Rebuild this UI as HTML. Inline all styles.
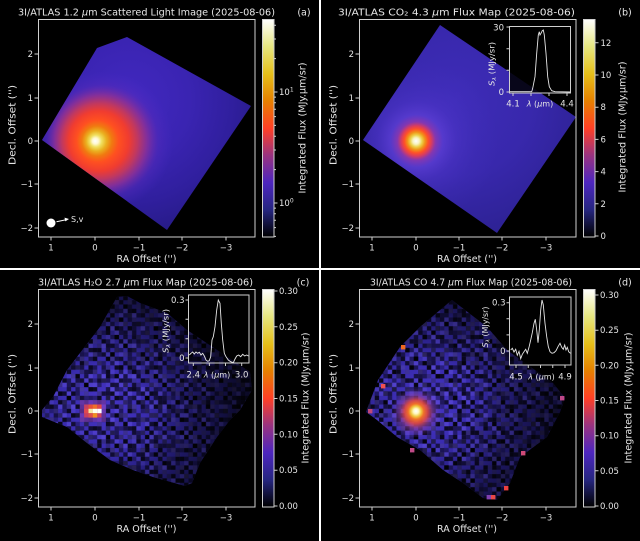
<!DOCTYPE html>
<html><head><meta charset="utf-8">
<style>
html,body{margin:0;padding:0;background:#000;}
svg{display:block;}
text{font-family:"DejaVu Sans","Liberation Sans",sans-serif;fill:#e6e6e6;}
</style></head><body>
<svg width="640" height="541" viewBox="0 0 640 541" xmlns="http://www.w3.org/2000/svg">
<defs>
<linearGradient id="cmap" x1="0" y1="1" x2="0" y2="0">
 <stop offset="0" stop-color="#000000"/>
 <stop offset="0.125" stop-color="#262680"/>
 <stop offset="0.25" stop-color="#4d26bf"/>
 <stop offset="0.375" stop-color="#993380"/>
 <stop offset="0.5" stop-color="#ff4026"/>
 <stop offset="0.625" stop-color="#e68000"/>
 <stop offset="0.75" stop-color="#e6bf1a"/>
 <stop offset="0.875" stop-color="#e6e680"/>
 <stop offset="1" stop-color="#ffffff"/>
</linearGradient>
<radialGradient id="haloA" gradientUnits="userSpaceOnUse" cx="130" cy="100" r="170">
 <stop offset="0" stop-color="#4228c0"/>
 <stop offset="0.35" stop-color="#3a24b2"/>
 <stop offset="0.6" stop-color="#301f9e"/>
 <stop offset="0.8" stop-color="#271b88"/>
 <stop offset="1" stop-color="#1e1670"/>
</radialGradient>
<radialGradient id="coreA" gradientUnits="userSpaceOnUse" cx="110" cy="141" fx="95" fy="141" r="120">
 <stop offset="0" stop-color="#ffffff"/>
 <stop offset="0.025" stop-color="#fff8d0"/>
 <stop offset="0.05" stop-color="#f0e060"/>
 <stop offset="0.085" stop-color="#eab020"/>
 <stop offset="0.125" stop-color="#f07a10"/>
 <stop offset="0.175" stop-color="#ff5020"/>
 <stop offset="0.25" stop-color="#f03c30"/>
 <stop offset="0.315" stop-color="#c03860"/>
 <stop offset="0.385" stop-color="#8a3098" stop-opacity="0.9"/>
 <stop offset="0.47" stop-color="#5a2cbc" stop-opacity="0.4"/>
 <stop offset="0.58" stop-color="#4a2cc8" stop-opacity="0"/>
</radialGradient>
<radialGradient id="haloB" gradientUnits="userSpaceOnUse" cx="455" cy="100" r="190">
 <stop offset="0" stop-color="#3e2cb8"/>
 <stop offset="0.4" stop-color="#3828ac"/>
 <stop offset="0.7" stop-color="#2e2296"/>
 <stop offset="1" stop-color="#231c7c"/>
</radialGradient>
<radialGradient id="coreB" gradientUnits="userSpaceOnUse" cx="418" cy="141" fx="416" fy="141" r="80">
 <stop offset="0" stop-color="#ffffff"/>
 <stop offset="0.04" stop-color="#f8f4c0"/>
 <stop offset="0.075" stop-color="#ecd048"/>
 <stop offset="0.11" stop-color="#f09418"/>
 <stop offset="0.15" stop-color="#ff5028"/>
 <stop offset="0.19" stop-color="#d83c60"/>
 <stop offset="0.24" stop-color="#8c38b0" stop-opacity="0.9"/>
 <stop offset="0.33" stop-color="#6040d8" stop-opacity="0.7"/>
 <stop offset="0.5" stop-color="#5438d0" stop-opacity="0.4"/>
 <stop offset="0.75" stop-color="#4c34c8" stop-opacity="0.15"/>
 <stop offset="1" stop-color="#4c34c8" stop-opacity="0"/>
</radialGradient>
<radialGradient id="haloC" gradientUnits="userSpaceOnUse" cx="105" cy="405" r="160">
 <stop offset="0" stop-color="#4634c4"/>
 <stop offset="0.25" stop-color="#3a2cb0"/>
 <stop offset="0.5" stop-color="#2e2498"/>
 <stop offset="0.75" stop-color="#221c78"/>
 <stop offset="1" stop-color="#161450"/>
</radialGradient>
<radialGradient id="haloD" gradientUnits="userSpaceOnUse" cx="430" cy="405" r="160">
 <stop offset="0" stop-color="#4634c4"/>
 <stop offset="0.25" stop-color="#3a2cb0"/>
 <stop offset="0.5" stop-color="#2e2498"/>
 <stop offset="0.75" stop-color="#221c78"/>
 <stop offset="1" stop-color="#161450"/>
</radialGradient>
<radialGradient id="vigC" gradientUnits="userSpaceOnUse" cx="100" cy="410" r="150">
 <stop offset="0" stop-color="#000" stop-opacity="0"/>
 <stop offset="0.3" stop-color="#000" stop-opacity="0"/>
 <stop offset="0.65" stop-color="#000" stop-opacity="0.35"/>
 <stop offset="1" stop-color="#000" stop-opacity="0.6"/>
</radialGradient>
<radialGradient id="vigD" gradientUnits="userSpaceOnUse" cx="425" cy="405" r="150">
 <stop offset="0" stop-color="#000" stop-opacity="0"/>
 <stop offset="0.3" stop-color="#000" stop-opacity="0"/>
 <stop offset="0.65" stop-color="#000" stop-opacity="0.35"/>
 <stop offset="1" stop-color="#000" stop-opacity="0.6"/>
</radialGradient>
<radialGradient id="coreD" gradientUnits="userSpaceOnUse" cx="416" cy="413" fx="416" fy="411" r="26">
 <stop offset="0" stop-color="#ffffff"/>
 <stop offset="0.1" stop-color="#fff8c0"/>
 <stop offset="0.2" stop-color="#f0c840"/>
 <stop offset="0.3" stop-color="#f07028"/>
 <stop offset="0.45" stop-color="#e04848" stop-opacity="0.9"/>
 <stop offset="0.65" stop-color="#9040a0" stop-opacity="0.55"/>
 <stop offset="1" stop-color="#6040c0" stop-opacity="0"/>
</radialGradient>
<g id="cellsA" fill="#000">
 <rect x="0" y="0" width="4.4" height="4.4" opacity="0.6"/>
 <rect x="8.7" y="0" width="4.4" height="4.4" opacity="0.4"/>
 <rect x="13.05" y="0" width="4.4" height="4.4" opacity="0.8"/>
 <rect x="26.1" y="0" width="4.4" height="4.4" opacity="0.5"/>
 <rect x="34.8" y="0" width="4.4" height="4.4" opacity="0.3"/>
 <rect x="4.35" y="4.35" width="4.4" height="4.4" opacity="0.7"/>
 <rect x="17.4" y="4.35" width="4.4" height="4.4" opacity="0.4"/>
 <rect x="21.75" y="4.35" width="4.4" height="4.4" opacity="0.9"/>
 <rect x="30.45" y="4.35" width="4.4" height="4.4" opacity="0.6"/>
 <rect x="0" y="8.7" width="4.4" height="4.4" opacity="0.3"/>
 <rect x="8.7" y="8.7" width="4.4" height="4.4" opacity="0.8"/>
 <rect x="13.05" y="8.7" width="4.4" height="4.4" opacity="0.5"/>
 <rect x="26.1" y="8.7" width="4.4" height="4.4" opacity="0.7"/>
 <rect x="34.8" y="8.7" width="4.4" height="4.4" opacity="0.6"/>
 <rect x="4.35" y="13.05" width="4.4" height="4.4" opacity="0.4"/>
 <rect x="17.4" y="13.05" width="4.4" height="4.4" opacity="0.7"/>
 <rect x="21.75" y="13.05" width="4.4" height="4.4" opacity="0.3"/>
 <rect x="30.45" y="13.05" width="4.4" height="4.4" opacity="0.9"/>
 <rect x="0" y="17.4" width="4.4" height="4.4" opacity="0.8"/>
 <rect x="13.05" y="17.4" width="4.4" height="4.4" opacity="0.6"/>
 <rect x="21.75" y="17.4" width="4.4" height="4.4" opacity="0.5"/>
 <rect x="26.1" y="17.4" width="4.4" height="4.4" opacity="0.4"/>
 <rect x="34.8" y="17.4" width="4.4" height="4.4" opacity="0.7"/>
 <rect x="4.35" y="21.75" width="4.4" height="4.4" opacity="0.5"/>
 <rect x="8.7" y="21.75" width="4.4" height="4.4" opacity="0.7"/>
 <rect x="17.4" y="21.75" width="4.4" height="4.4" opacity="0.8"/>
 <rect x="30.45" y="21.75" width="4.4" height="4.4" opacity="0.4"/>
 <rect x="0" y="26.1" width="4.4" height="4.4" opacity="0.4"/>
 <rect x="13.05" y="26.1" width="4.4" height="4.4" opacity="0.9"/>
 <rect x="21.75" y="26.1" width="4.4" height="4.4" opacity="0.6"/>
 <rect x="26.1" y="26.1" width="4.4" height="4.4" opacity="0.7"/>
 <rect x="34.8" y="26.1" width="4.4" height="4.4" opacity="0.5"/>
 <rect x="4.35" y="30.45" width="4.4" height="4.4" opacity="0.8"/>
 <rect x="8.7" y="30.45" width="4.4" height="4.4" opacity="0.4"/>
 <rect x="17.4" y="30.45" width="4.4" height="4.4" opacity="0.5"/>
 <rect x="30.45" y="30.45" width="4.4" height="4.4" opacity="0.7"/>
 <rect x="0" y="34.8" width="4.4" height="4.4" opacity="0.5"/>
 <rect x="13.05" y="34.8" width="4.4" height="4.4" opacity="0.4"/>
 <rect x="21.75" y="34.8" width="4.4" height="4.4" opacity="0.8"/>
 <rect x="26.1" y="34.8" width="4.4" height="4.4" opacity="0.6"/>
 <rect x="34.8" y="34.8" width="4.4" height="4.4" opacity="0.8"/>
</g>
<g id="cellsB" fill="#7a68ff">
 <rect x="0" y="4.35" width="4.4" height="4.4" opacity="0.3"/>
 <rect x="8.7" y="0" width="4.4" height="4.4" opacity="0.2"/>
 <rect x="17.4" y="8.7" width="4.4" height="4.4" opacity="0.35"/>
 <rect x="26.1" y="4.35" width="4.4" height="4.4" opacity="0.25"/>
 <rect x="4.35" y="13.05" width="4.4" height="4.4" opacity="0.3"/>
 <rect x="13.05" y="17.4" width="4.4" height="4.4" opacity="0.2"/>
 <rect x="21.75" y="13.05" width="4.4" height="4.4" opacity="0.3"/>
 <rect x="0" y="21.75" width="4.4" height="4.4" opacity="0.25"/>
 <rect x="8.7" y="26.1" width="4.4" height="4.4" opacity="0.35"/>
 <rect x="17.4" y="21.75" width="4.4" height="4.4" opacity="0.2"/>
 <rect x="26.1" y="26.1" width="4.4" height="4.4" opacity="0.3"/>
 <rect x="13.05" y="4.35" width="4.4" height="4.4" opacity="0.15"/>
 <rect x="21.75" y="0" width="4.4" height="4.4" opacity="0.25"/>
 <rect x="4.35" y="26.1" width="4.4" height="4.4" opacity="0.2"/>
</g>
<g id="cellsC" fill="#000">
 <rect x="4.35" y="0" width="4.4" height="4.4" opacity="0.7"/>
 <rect x="21.75" y="0" width="4.4" height="4.4" opacity="0.5"/>
 <rect x="39.15" y="4.35" width="4.4" height="4.4" opacity="0.8"/>
 <rect x="13.05" y="8.7" width="4.4" height="4.4" opacity="0.6"/>
 <rect x="30.45" y="8.7" width="4.4" height="4.4" opacity="0.7"/>
 <rect x="0" y="13.05" width="4.4" height="4.4" opacity="0.5"/>
 <rect x="43.5" y="13.05" width="4.4" height="4.4" opacity="0.6"/>
 <rect x="17.4" y="17.4" width="4.4" height="4.4" opacity="0.8"/>
 <rect x="34.8" y="21.75" width="4.4" height="4.4" opacity="0.6"/>
 <rect x="8.7" y="21.75" width="4.4" height="4.4" opacity="0.7"/>
 <rect x="26.1" y="26.1" width="4.4" height="4.4" opacity="0.5"/>
 <rect x="43.5" y="26.1" width="4.4" height="4.4" opacity="0.7"/>
 <rect x="0" y="30.45" width="4.4" height="4.4" opacity="0.6"/>
 <rect x="17.4" y="34.8" width="4.4" height="4.4" opacity="0.7"/>
 <rect x="34.8" y="34.8" width="4.4" height="4.4" opacity="0.5"/>
 <rect x="8.7" y="39.15" width="4.4" height="4.4" opacity="0.8"/>
 <rect x="26.1" y="39.15" width="4.4" height="4.4" opacity="0.6"/>
 <rect x="43.5" y="39.15" width="4.4" height="4.4" opacity="0.4"/>
 <rect x="4.35" y="43.5" width="4.4" height="4.4" opacity="0.6"/>
 <rect x="21.75" y="43.5" width="4.4" height="4.4" opacity="0.7"/>
 <rect x="39.15" y="43.5" width="4.4" height="4.4" opacity="0.5"/>
</g>
<pattern id="ndC" patternUnits="userSpaceOnUse" x="92.825" y="408.825" width="39.15" height="39.15"><use href="#cellsA"/></pattern>
<pattern id="nlC" patternUnits="userSpaceOnUse" x="92.825" y="408.825" width="30.45" height="30.45"><use href="#cellsB"/></pattern>
<pattern id="nxC" patternUnits="userSpaceOnUse" x="88.475" y="404.475" width="47.85" height="47.85"><use href="#cellsC"/></pattern>
<pattern id="ndD" patternUnits="userSpaceOnUse" x="400.775" y="395.775" width="39.15" height="39.15"><use href="#cellsA"/></pattern>
<pattern id="nlD" patternUnits="userSpaceOnUse" x="413.825" y="417.525" width="30.45" height="30.45"><use href="#cellsB"/></pattern>
<pattern id="nxD" patternUnits="userSpaceOnUse" x="405.125" y="413.175" width="47.85" height="47.85"><use href="#cellsC"/></pattern>
<clipPath id="clipA"><rect x="38.5" y="19.5" width="216.5" height="217.5"/></clipPath>
<clipPath id="clipB"><rect x="359.5" y="19.5" width="216.5" height="217.5"/></clipPath>
<clipPath id="polyC"><polygon points="42,410 53,397 67,370 80,353 100,327 117,297 127,296 140,303 167,313 187,330 250,372 252,390 240,410 230,420 217,437 200,463 192,483 185,486 153,477 133,470 110,460 87,443 67,427 42,417"/></clipPath>
<clipPath id="polyD"><polygon points="366,412 378,380 400,347 420,327 452,300 487,327 507,350 553,383 565,398 560,412 547,437 520,457 510,483 497,500 483,498 463,483 443,470 420,450 397,437 377,420"/></clipPath>
</defs>

<rect x="0" y="0" width="640" height="541" fill="#000"/>

<!-- ================= PANEL A ================= -->
<g clip-path="url(#clipA)">
 <polygon points="42,140 97,48 127,37 251,106 167,230" fill="url(#haloA)"/>
 <polygon points="42,140 97,48 127,37 251,106 167,230" fill="url(#coreA)"/>
</g>
<circle cx="51" cy="223" r="4.5" fill="#ffffff"/>
<line x1="56.5" y1="221.7" x2="66" y2="219.7" stroke="#fff" stroke-width="1"/>
<polygon points="69,219 64.5,217.6 65.3,221.4" fill="#fff"/>
<text x="71" y="222" font-size="8">S,v</text>

<g stroke="#d0d0d0" stroke-width="1" fill="none">
 <rect x="38.5" y="19.5" width="216.5" height="217.5"/>
 <path d="M34.5,54H38M34.5,98H38M34.5,141H38M34.5,184H38M34.5,228H38"/>
 <path d="M51,237V240.5M95,237V240.5M139,237V240.5M182,237V240.5M226,237V240.5"/>
</g>
<g font-size="8.5">
 <g text-anchor="end">
  <text x="33" y="57">2</text><text x="33" y="101">1</text><text x="33" y="144">0</text>
  <text x="33" y="187">−1</text><text x="33" y="231">−2</text>
 </g>
 <g text-anchor="middle">
  <text x="51" y="250.5">1</text><text x="95" y="250.5">0</text><text x="139" y="250.5">−1</text>
  <text x="182" y="250.5">−2</text><text x="226" y="250.5">−3</text>
 </g>
</g>
<text x="146.5" y="262" font-size="9.6" text-anchor="middle" textLength="60" lengthAdjust="spacingAndGlyphs">RA Offset ('')</text>
<text transform="translate(15.5,125) rotate(-90)" font-size="9.6" text-anchor="middle" textLength="80" lengthAdjust="spacingAndGlyphs">Decl. Offset ('')</text>
<text x="18" y="15.5" font-size="9.6" textLength="257" lengthAdjust="spacingAndGlyphs">3I/ATLAS 1.2 <tspan font-style="italic">μ</tspan>m Scattered Light Image (2025-08-06)</text>
<text x="304" y="15.5" font-size="9.6" text-anchor="middle">(a)</text>
<rect x="262.5" y="19.5" width="11.5" height="217.5" fill="url(#cmap)" stroke="#d0d0d0" stroke-width="1"/>
<g stroke="#d0d0d0" stroke-width="1">
 <path d="M274,92H277.5M274,203H277.5"/>
 <path d="M274,236.4H276M274,227.6H276M274,220.2H276M274,213.8H276M274,208.1H276M274,169.6H276M274,150H276M274,136.2H276M274,125.4H276M274,116.6H276M274,109.2H276M274,102.8H276M274,97.1H276M274,58.6H276M274,39H276M274,25.2H276"/>
</g>
<text x="279" y="95" font-size="8.5">10<tspan dy="-3.5" font-size="6">1</tspan></text>
<text x="279" y="206" font-size="8.5">10<tspan dy="-3.5" font-size="6">0</tspan></text>
<text transform="translate(305.5,128) rotate(-90)" font-size="9.6" text-anchor="middle" textLength="131" lengthAdjust="spacingAndGlyphs">Integrated Flux (MJy.μm/sr)</text>

<!-- ================= PANEL B ================= -->
<g clip-path="url(#clipB)">
 <polygon points="363,140 440,25 576,117 497,233" fill="url(#haloB)"/>
 <polygon points="363,140 440,25 576,117 497,233" fill="url(#coreB)"/>
</g>
<g stroke="#d0d0d0" stroke-width="1" fill="none">
 <rect x="359.5" y="19.5" width="216.5" height="217.5"/>
 <path d="M355.5,54H359M355.5,98H359M355.5,141H359M355.5,184H359M355.5,228H359"/>
 <path d="M372,237V240.5M416,237V240.5M459,237V240.5M502,237V240.5M546,237V240.5"/>
</g>
<g font-size="8.5">
 <g text-anchor="end">
  <text x="354" y="57">2</text><text x="354" y="101">1</text><text x="354" y="144">0</text>
  <text x="354" y="187">−1</text><text x="354" y="231">−2</text>
 </g>
 <g text-anchor="middle">
  <text x="372" y="250.5">1</text><text x="416" y="250.5">0</text><text x="459" y="250.5">−1</text>
  <text x="502" y="250.5">−2</text><text x="546" y="250.5">−3</text>
 </g>
</g>
<text x="467" y="262" font-size="9.6" text-anchor="middle" textLength="60" lengthAdjust="spacingAndGlyphs">RA Offset ('')</text>
<text transform="translate(336.5,125) rotate(-90)" font-size="9.6" text-anchor="middle" textLength="80" lengthAdjust="spacingAndGlyphs">Decl. Offset ('')</text>
<text x="338" y="15.5" font-size="9.6" textLength="237" lengthAdjust="spacingAndGlyphs">3I/ATLAS CO₂ 4.3 <tspan font-style="italic">μ</tspan>m Flux Map (2025-08-06)</text>
<text x="625" y="15.5" font-size="9.6" text-anchor="middle">(b)</text>
<rect x="509.5" y="26.5" width="61" height="66.5" fill="#000" fill-opacity="0.85" stroke="#d0d0d0" stroke-width="1"/>
<polyline fill="none" stroke="#e6e6e6" stroke-width="0.9" points="510,91.7 531.7,91.7 532.7,88.3 535,76.7 536.7,53.3 538.3,35 539.3,31.7 540,35 541,33.3 542.3,30.7 543.3,30 544.3,35 546,53.3 547.7,76.7 549.3,86.7 551.7,90.7 555,91.7 570,92"/>
<g stroke="#d0d0d0" stroke-width="1">
 <path d="M506.5,27H509.5M506.5,48.7H509.5M506.5,70.3H509.5M506.5,92H509.5"/>
 <path d="M513,93V96M531,93V96M549,93V96M567,93V96"/>
</g>
<g font-size="8.5">
 <text x="504" y="30.5" text-anchor="end">30</text>
 <text x="504" y="95" text-anchor="end">0</text>
 <text x="513" y="106.5" text-anchor="middle">4.1</text>
 <text x="567" y="106.5" text-anchor="middle">4.4</text>
 <text x="540" y="106.5" text-anchor="middle" font-size="8"><tspan font-style="italic">λ</tspan> (<tspan font-style="italic">μ</tspan>m)</text>
</g>
<text transform="translate(494.5,64) rotate(-90)" font-size="7.5" text-anchor="middle" textLength="44" lengthAdjust="spacingAndGlyphs"><tspan font-style="italic">S</tspan><tspan font-size="5.5" dy="1.5" font-style="italic">λ</tspan><tspan dy="-1.5"> (MJy/sr)</tspan></text>
<rect x="583.5" y="19.5" width="11.5" height="217.5" fill="url(#cmap)" stroke="#d0d0d0" stroke-width="1"/>
<g stroke="#d0d0d0" stroke-width="1">
 <path d="M595,236H598.5M595,203.8H598.5M595,171.6H598.5M595,139.4H598.5M595,107.2H598.5M595,75H598.5M595,42.8H598.5"/>
</g>
<g font-size="8.5">
 <text x="600.5" y="239">0</text><text x="600.5" y="206.8">2</text><text x="600.5" y="174.6">4</text>
 <text x="600.5" y="142.4">6</text><text x="600.5" y="110.2">8</text><text x="600.5" y="78">10</text>
 <text x="600.5" y="45.8">12</text>
</g>
<text transform="translate(625.5,127) rotate(-90)" font-size="9.6" text-anchor="middle" textLength="131" lengthAdjust="spacingAndGlyphs">Integrated Flux (MJy.μm/sr)</text>

<!-- ================= PANEL C ================= -->
<g clip-path="url(#polyC)">
 <rect x="38" y="289" width="217" height="218" fill="url(#haloC)"/>
 <rect x="38" y="289" width="217" height="218" fill="url(#ndC)"/>
 <rect x="38" y="289" width="217" height="218" fill="url(#nxC)"/>
 <rect x="38" y="289" width="217" height="218" fill="url(#nlC)"/>
 <rect x="38" y="289" width="217" height="218" fill="url(#vigC)"/>
</g>
<rect x="79.8" y="400.1" width="26.1" height="21.8" fill="#7a3cb8" opacity="0.7"/>
<rect x="84.1" y="404.5" width="17.4" height="13" fill="#c84060"/>
<rect x="88.5" y="404.5" width="4.4" height="4.4" fill="#e85038"/>
<rect x="92.8" y="404.5" width="4.4" height="4.4" fill="#f07028"/>
<rect x="97.2" y="404.5" width="4.4" height="4.4" fill="#e04848"/>
<rect x="84.1" y="408.8" width="4.4" height="4.4" fill="#e04850"/>
<rect x="88.5" y="408.8" width="4.4" height="4.4" fill="#f4e8a0"/>
<rect x="92.8" y="408.8" width="4.4" height="4.4" fill="#fffff0"/>
<rect x="97.2" y="408.8" width="4.4" height="4.4" fill="#ffffff"/>
<rect x="88.5" y="413.2" width="4.4" height="4.4" fill="#e05048"/>
<rect x="92.8" y="413.2" width="4.4" height="4.4" fill="#f09020"/>
<g stroke="#d0d0d0" stroke-width="1" fill="none">
 <rect x="38.5" y="289.5" width="216.5" height="217.5"/>
 <path d="M34.5,324H38M34.5,368H38M34.5,411H38M34.5,454H38M34.5,498H38"/>
 <path d="M51,507V510.5M95,507V510.5M139,507V510.5M182,507V510.5M226,507V510.5"/>
</g>
<g font-size="8.5">
 <g text-anchor="end">
  <text x="33" y="327">2</text><text x="33" y="371">1</text><text x="33" y="414">0</text>
  <text x="33" y="457">−1</text><text x="33" y="501">−2</text>
 </g>
 <g text-anchor="middle">
  <text x="51" y="520.5">1</text><text x="95" y="520.5">0</text><text x="139" y="520.5">−1</text>
  <text x="182" y="520.5">−2</text><text x="226" y="520.5">−3</text>
 </g>
</g>
<text x="146.5" y="532" font-size="9.6" text-anchor="middle" textLength="60" lengthAdjust="spacingAndGlyphs">RA Offset ('')</text>
<text transform="translate(15.5,394) rotate(-90)" font-size="9.6" text-anchor="middle" textLength="80" lengthAdjust="spacingAndGlyphs">Decl. Offset ('')</text>
<text x="38" y="285.5" font-size="9.6" textLength="215" lengthAdjust="spacingAndGlyphs">3I/ATLAS H₂O 2.7 <tspan font-style="italic">μ</tspan>m Flux Map (2025-08-06)</text>
<text x="303" y="285.5" font-size="9.6" text-anchor="middle">(c)</text>
<rect x="188.5" y="295" width="60.5" height="68" fill="#000" fill-opacity="0.2" stroke="#d0d0d0" stroke-width="1"/>
<polyline fill="none" stroke="#e6e6e6" stroke-width="0.9" points="189.3,355 191,353.3 192.7,352 194.3,354 196,352 197.7,353.3 199.3,352.3 201,355 202.7,353.3 204.3,356 206,360 207.7,361.3 209.3,360.7 210.7,356.7 212,340 213.3,336.7 215,326.7 216.7,310 218.3,300 220,303.3 221.3,323.3 222.7,340 224.3,353.3 226,356.7 228.3,360 230.7,361.7 233.3,362.7 235,359 236.7,356 238.7,355 240.7,356.7 242.7,354.3 244.7,356 246.7,355 248.5,356"/>
<g stroke="#d0d0d0" stroke-width="1">
 <path d="M185.5,300H188.5M185.5,319.3H188.5M185.5,338.7H188.5M185.5,358H188.5"/>
 <path d="M193.3,363V366M209.4,363V366M225.5,363V366M241.7,363V366"/>
</g>
<g font-size="8.5">
 <text x="184.5" y="303" text-anchor="end">0.3</text>
 <text x="184.5" y="361" text-anchor="end">0</text>
 <text x="193.3" y="377.5" text-anchor="middle">2.4</text>
 <text x="241.7" y="377.5" text-anchor="middle">3.0</text>
 <text x="217" y="377.5" text-anchor="middle" font-size="8"><tspan font-style="italic">λ</tspan> (<tspan font-style="italic">μ</tspan>m)</text>
</g>
<text transform="translate(168.5,331) rotate(-90)" font-size="7.5" text-anchor="middle" textLength="44" lengthAdjust="spacingAndGlyphs"><tspan font-style="italic">S</tspan><tspan font-size="5.5" dy="1.5" font-style="italic">λ</tspan><tspan dy="-1.5"> (MJy/sr)</tspan></text>
<rect x="262.5" y="289.5" width="11.5" height="217.5" fill="url(#cmap)" stroke="#d0d0d0" stroke-width="1"/>
<g stroke="#d0d0d0" stroke-width="1">
 <path d="M274,506H277.5M274,470.2H277.5M274,434.3H277.5M274,398.5H277.5M274,362.7H277.5M274,326.8H277.5M274,291H277.5"/>
</g>
<g font-size="8.5">
 <text x="279" y="509">0.00</text><text x="279" y="473.2">0.05</text><text x="279" y="437.3">0.10</text>
 <text x="279" y="401.5">0.15</text><text x="279" y="365.7">0.20</text><text x="279" y="329.8">0.25</text>
 <text x="279" y="294">0.30</text>
</g>
<text transform="translate(308.5,398) rotate(-90)" font-size="9.6" text-anchor="middle" textLength="131" lengthAdjust="spacingAndGlyphs">Integrated Flux (MJy.μm/sr)</text>

<!-- ================= PANEL D ================= -->
<g clip-path="url(#polyD)">
 <rect x="359" y="289" width="217" height="218" fill="url(#haloD)"/>
 <rect x="359" y="289" width="217" height="218" fill="url(#ndD)"/>
 <rect x="359" y="289" width="217" height="218" fill="url(#nxD)"/>
 <rect x="359" y="289" width="217" height="218" fill="url(#nlD)"/>
 <rect x="359" y="289" width="217" height="218" fill="url(#vigD)"/>
</g>
<rect x="390" y="385" width="52" height="52" fill="url(#coreD)"/>
<g>
 <rect x="401" y="345" width="4.4" height="4.4" fill="#f06a20"/>
 <rect x="381" y="384" width="4.4" height="4.4" fill="#f05050"/>
 <rect x="368" y="409" width="4.4" height="4.4" fill="#c04878"/>
 <rect x="410" y="448" width="4.4" height="4.4" fill="#c04a88"/>
 <rect x="521" y="451" width="4.4" height="4.4" fill="#d04a78"/>
 <rect x="504" y="486" width="4.4" height="4.4" fill="#f04040"/>
 <rect x="491" y="495" width="4.4" height="4.4" fill="#e84848"/>
 <rect x="486.6" y="495" width="4.4" height="4.4" fill="#8040b0"/>
 <rect x="560" y="396" width="4.4" height="4.4" fill="#c04888"/>
</g>
<g stroke="#d0d0d0" stroke-width="1" fill="none">
 <rect x="359.5" y="289.5" width="216.5" height="217.5"/>
 <path d="M355.5,324H359M355.5,368H359M355.5,411H359M355.5,454H359M355.5,498H359"/>
 <path d="M372,507V510.5M416,507V510.5M459,507V510.5M502,507V510.5M546,507V510.5"/>
</g>
<g font-size="8.5">
 <g text-anchor="end">
  <text x="354" y="327">2</text><text x="354" y="371">1</text><text x="354" y="414">0</text>
  <text x="354" y="457">−1</text><text x="354" y="501">−2</text>
 </g>
 <g text-anchor="middle">
  <text x="372" y="520.5">1</text><text x="416" y="520.5">0</text><text x="459" y="520.5">−1</text>
  <text x="502" y="520.5">−2</text><text x="546" y="520.5">−3</text>
 </g>
</g>
<text x="467" y="532" font-size="9.6" text-anchor="middle" textLength="60" lengthAdjust="spacingAndGlyphs">RA Offset ('')</text>
<text transform="translate(336.5,394) rotate(-90)" font-size="9.6" text-anchor="middle" textLength="80" lengthAdjust="spacingAndGlyphs">Decl. Offset ('')</text>
<text x="370" y="285.5" font-size="9.6" textLength="202" lengthAdjust="spacingAndGlyphs">3I/ATLAS CO 4.7 <tspan font-style="italic">μ</tspan>m Flux Map (2025-08-06)</text>
<text x="625" y="285.5" font-size="9.6" text-anchor="middle">(d)</text>
<rect x="509.5" y="297" width="61.5" height="68" fill="#000" fill-opacity="0.2" stroke="#d0d0d0" stroke-width="1"/>
<polyline fill="none" stroke="#e6e6e6" stroke-width="0.9" points="510.7,350 512.3,348.3 514,352 515.7,349.3 517.3,355.3 519,351.3 520.7,358.7 522.3,354.3 524,351.7 525.7,349.3 527.3,353.3 529,347.3 530.7,340 532.3,332.7 534,323.3 535.3,319.3 536.7,330 538,342.7 539.3,330 540.7,310 542,300 543.3,305 545,323.3 546.7,336.7 548.3,346.7 550,351.7 552,353.3 554,352.7 556,350.7 558,346.7 560,343.3 561.7,347.3 563.3,349.3 564.7,345 566,350 567.3,347.3 568.7,351.7 570.5,353.3"/>
<g stroke="#d0d0d0" stroke-width="1">
 <path d="M506.5,302.7H509.5M506.5,318.8H509.5M506.5,334.9H509.5M506.5,351H509.5"/>
 <path d="M516,365V368M528.25,365V368M540.5,365V368M552.75,365V368M565,365V368"/>
</g>
<g font-size="8.5">
 <text x="505.5" y="305.5" text-anchor="end">0.3</text>
 <text x="505.5" y="354" text-anchor="end">0</text>
 <text x="516" y="379.5" text-anchor="middle">4.5</text>
 <text x="565" y="379.5" text-anchor="middle">4.9</text>
 <text x="541.5" y="379.5" text-anchor="middle" font-size="8"><tspan font-style="italic">λ</tspan> (<tspan font-style="italic">μ</tspan>m)</text>
</g>
<text transform="translate(488,327) rotate(-90)" font-size="7.5" text-anchor="middle" textLength="41" lengthAdjust="spacingAndGlyphs"><tspan font-style="italic">S</tspan><tspan font-size="5.5" dy="1.5" font-style="italic">λ</tspan><tspan dy="-1.5"> (MJy/sr)</tspan></text>
<rect x="583.5" y="289.5" width="11.5" height="217.5" fill="url(#cmap)" stroke="#d0d0d0" stroke-width="1"/>
<g stroke="#d0d0d0" stroke-width="1">
 <path d="M595,506H598.5M595,470.8H598.5M595,435.7H598.5M595,400.5H598.5M595,365.3H598.5M595,330.2H598.5M595,295H598.5"/>
</g>
<g font-size="8.5">
 <text x="600" y="509">0.00</text><text x="600" y="473.8">0.05</text><text x="600" y="438.7">0.10</text>
 <text x="600" y="403.5">0.15</text><text x="600" y="368.3">0.20</text><text x="600" y="333.2">0.25</text>
 <text x="600" y="298">0.30</text>
</g>
<text transform="translate(631.5,398) rotate(-90)" font-size="9.6" text-anchor="middle" textLength="131" lengthAdjust="spacingAndGlyphs">Integrated Flux (MJy.μm/sr)</text>

<rect x="319" y="0" width="2" height="541" fill="#ffffff"/>
<rect x="0" y="268" width="640" height="2" fill="#ffffff"/>
</svg>
</body></html>
